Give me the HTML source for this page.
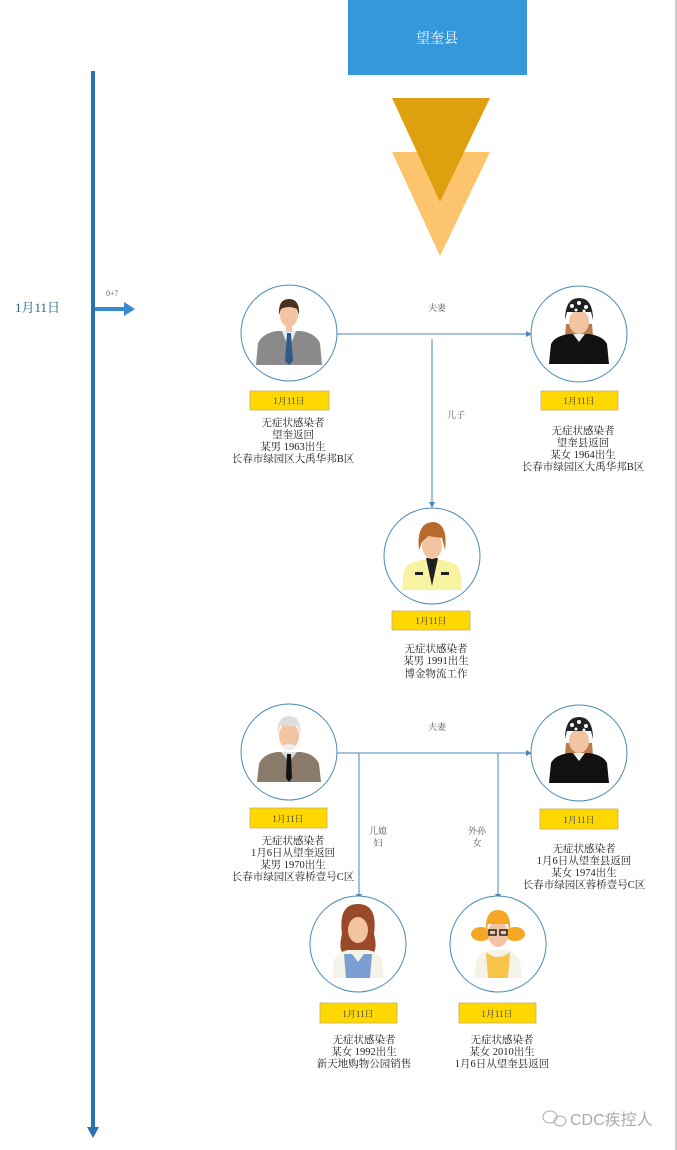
<!DOCTYPE html>
<html><head><meta charset="utf-8"><style>
html,body{margin:0;padding:0;background:#fff;}
svg{display:block;}
text{font-family:"Liberation Serif","Noto Serif CJK SC","Noto Sans CJK SC",serif;}
</style></head><body>
<svg width="677" height="1150" viewBox="0 0 677 1150" xmlns="http://www.w3.org/2000/svg">
<rect width="677" height="1150" fill="#fff"/>
<line x1="676" y1="0" x2="676" y2="1150" stroke="#999" stroke-width="1"/>
<rect x="348" y="0" width="179" height="75" fill="#3498db"/>
<text x="437" y="43" font-size="14" fill="#fff" text-anchor="middle">望奎县</text>
<polygon points="392,152 490,152 440,256" fill="#fdc46e"/>
<polygon points="392,98 490,98 440,202" fill="#dfa010"/>
<rect x="91" y="71" width="4" height="1058" fill="#2a72b0"/>
<polygon points="87,1127 99,1127 93,1138" fill="#2a72b0"/>
<text x="15" y="312" font-size="13" fill="#2a5f90">1月11日</text>
<rect x="95" y="307" width="30" height="4" fill="#3a8ad0"/>
<polygon points="124,302 135,309 124,316" fill="#3a8ad0"/>
<text x="106" y="296" font-size="8" fill="#666">0+7</text>

<g stroke="#4a86b8" stroke-width="1" fill="none">
<line x1="337" y1="334" x2="527" y2="334"/>
<line x1="432" y1="339" x2="432" y2="503"/>
<line x1="337" y1="753" x2="527" y2="753"/>
<line x1="359" y1="753" x2="359" y2="895"/>
<line x1="498" y1="753" x2="498" y2="895"/>
</g>
<g fill="#4a86b8">
<polygon points="526,331 532,334 526,337"/>
<polygon points="429,502 432,508 435,502"/>
<polygon points="526,750 532,753 526,756"/>
<polygon points="356,894 359,900 362,894"/>
<polygon points="495,894 498,900 501,894"/>
</g>
<g font-size="9" fill="#555" text-anchor="middle">
<text x="437" y="311">夫妻</text>
<text x="456" y="418">儿子</text>
<text x="437" y="730">夫妻</text>
<text x="378" y="834">儿媳</text><text x="378" y="846">妇</text>
<text x="477" y="834">外孙</text><text x="477" y="846">女</text>
</g>

<g fill="#fff" stroke="#4a8ab8" stroke-width="1">
<ellipse cx="289" cy="333" rx="48" ry="48"/>
<ellipse cx="579" cy="334" rx="48" ry="48"/>
<ellipse cx="432" cy="556" rx="48" ry="48"/>
<ellipse cx="289" cy="752" rx="48" ry="48"/>
<ellipse cx="579" cy="753" rx="48" ry="48"/>
<ellipse cx="358" cy="944" rx="48" ry="48"/>
<ellipse cx="498" cy="944" rx="48" ry="48"/>
</g>

<g transform="translate(289,333)">
<path d="M-33,32 L-31,10 Q-26,0 -12,-2 L12,-2 Q26,0 31,10 L33,32Z" fill="#8a8a8a"/>
<path d="M-7,-2 L0,16 L7,-2Z" fill="#e8eef5"/>
<path d="M-2,0 L2,0 L4,28 L0,32 L-4,28Z" fill="#2f5a86"/>
<rect x="-3" y="-10" width="6" height="9" fill="#f3c4a2"/>
<ellipse cx="0" cy="-18" rx="9" ry="12" fill="#f3c4a2"/>
<path d="M-10,-18 Q-11,-34 0,-34 Q11,-34 10,-18 L8,-24 Q0,-28 -8,-24Z" fill="#4a3020"/>
</g>
<g transform="translate(579,334)">
<path d="M-13,-10 L-15,14 L15,14 L13,-10Z" fill="#b87d4b"/>
<path d="M-30,30 L-28,10 Q-24,2 -10,0 L10,0 Q24,2 28,10 L30,30Z" fill="#111"/>
<path d="M-6,0 L0,8 L6,0Z" fill="#eee"/>
<ellipse cx="0" cy="-12" rx="10" ry="12" fill="#f3c4a2"/>
<path d="M-14,-14 Q-14,-36 0,-36 Q14,-36 14,-14 L12,-22 L-12,-22Z" fill="#222"/>
<circle cx="-7" cy="-28" r="2" fill="#fff"/><circle cx="0" cy="-31" r="2" fill="#fff"/><circle cx="7" cy="-27" r="2" fill="#fff"/><circle cx="-3" cy="-24" r="1.5" fill="#fff"/><circle cx="5" cy="-23" r="1.5" fill="#fff"/>
</g>
<g transform="translate(432,556)">
<path d="M-30,34 L-28,14 Q-24,6 -10,4 L10,4 Q24,6 28,14 L30,34Z" fill="#f8f3a0"/>
<path d="M-6,2 L0,30 L6,2Z" fill="#222"/>
<rect x="-17" y="16" width="8" height="3" fill="#222"/><rect x="9" y="16" width="8" height="3" fill="#222"/>
<ellipse cx="0" cy="-10" rx="10" ry="13" fill="#f3c4a2"/>
<path d="M-13,-6 Q-16,-34 2,-34 Q16,-32 13,-6 L10,-18 L-4,-20 L-10,-14Z" fill="#b86a2c"/>
</g>
<g transform="translate(289,752)">
<path d="M-32,30 L-30,12 Q-26,2 -12,0 L12,0 Q26,2 30,12 L32,30Z" fill="#8a7a6a"/>
<path d="M-8,0 L0,10 L8,0Z" fill="#ddd"/>
<path d="M-2,2 L2,2 L3,26 L0,30 L-3,26Z" fill="#111"/>
<ellipse cx="0" cy="-16" rx="10" ry="13" fill="#f3c4a2"/>
<path d="M-11,-16 Q-13,-36 0,-36 Q13,-36 11,-16 L9,-26 L-9,-26Z" fill="#ddd"/>
<path d="M-7,-6 Q0,-10 7,-6 L5,-2 L-5,-2Z" fill="#eee"/>
</g>
<g transform="translate(579,753)">
<path d="M-13,-10 L-15,14 L15,14 L13,-10Z" fill="#b87d4b"/>
<path d="M-30,30 L-28,10 Q-24,2 -10,0 L10,0 Q24,2 28,10 L30,30Z" fill="#111"/>
<path d="M-6,0 L0,8 L6,0Z" fill="#eee"/>
<ellipse cx="0" cy="-12" rx="10" ry="12" fill="#f3c4a2"/>
<path d="M-14,-14 Q-14,-36 0,-36 Q14,-36 14,-14 L12,-22 L-12,-22Z" fill="#222"/>
<circle cx="-7" cy="-28" r="2" fill="#fff"/><circle cx="0" cy="-31" r="2" fill="#fff"/><circle cx="7" cy="-27" r="2" fill="#fff"/><circle cx="-3" cy="-24" r="1.5" fill="#fff"/><circle cx="5" cy="-23" r="1.5" fill="#fff"/>
</g>
<g transform="translate(358,944)">
<path d="M-16,-10 Q-20,-40 0,-40 Q20,-40 16,-10 Q20,6 14,10 L-14,10 Q-20,6 -16,-10Z" fill="#9a4a28"/>
<path d="M-26,34 L-24,16 Q-20,8 -10,6 L10,6 Q20,8 24,16 L26,34Z" fill="#f5f3e8"/>
<path d="M-14,10 L-12,34 L12,34 L14,10 L6,10 L0,18 L-6,10Z" fill="#7a9fd0"/>
<ellipse cx="0" cy="-14" rx="10" ry="13" fill="#f3c4a2"/>
</g>
<g transform="translate(498,944)">
<ellipse cx="-17" cy="-10" rx="10" ry="7" fill="#f6a525"/>
<ellipse cx="17" cy="-10" rx="10" ry="7" fill="#f6a525"/>
<path d="M-24,34 L-22,16 Q-18,8 -8,6 L8,6 Q18,8 22,16 L24,34Z" fill="#f5f3e8"/>
<path d="M-12,8 L-10,34 L10,34 L12,8 Q0,18 -12,8Z" fill="#f8c54a"/>
<ellipse cx="0" cy="-10" rx="10" ry="13" fill="#f3c4a2"/>
<path d="M-12,-10 Q-14,-34 0,-34 Q14,-34 12,-10 L10,-20 L-10,-20Z" fill="#f6a525"/>
<rect x="-9" y="-14" width="7" height="5" fill="none" stroke="#222" stroke-width="1.5"/>
<rect x="2" y="-14" width="7" height="5" fill="none" stroke="#222" stroke-width="1.5"/>
</g>

<g fill="#ffd800" stroke="#c8b060" stroke-width="0.8">
<rect x="250" y="391" width="79" height="19"/>
<rect x="541" y="391" width="77" height="19"/>
<rect x="392" y="611" width="78" height="19"/>
<rect x="250" y="808" width="77" height="20"/>
<rect x="540" y="809" width="78" height="20"/>
<rect x="320" y="1003" width="77" height="20"/>
<rect x="459" y="1003" width="77" height="20"/>
</g>
<g font-size="9" fill="#444" text-anchor="middle">
<text x="289" y="404">1月11日</text>
<text x="579" y="404">1月11日</text>
<text x="431" y="624">1月11日</text>
<text x="288" y="822">1月11日</text>
<text x="579" y="823">1月11日</text>
<text x="358" y="1017">1月11日</text>
<text x="497" y="1017">1月11日</text>
</g>

<g font-size="10.5" fill="#222" text-anchor="middle">
<text x="293" y="426">无症状感染者</text>
<text x="293" y="438">望奎返回</text>
<text x="293" y="450">某男  1963出生</text>
<text x="293" y="462">长春市绿园区大禹华邦B区</text>

<text x="583" y="434">无症状感染者</text>
<text x="583" y="446">望奎县返回</text>
<text x="583" y="458">某女  1964出生</text>
<text x="583" y="470">长春市绿园区大禹华邦B区</text>

<text x="436" y="652">无症状感染者</text>
<text x="436" y="664">某男  1991出生</text>
<text x="436" y="677">博金物流工作</text>

<text x="293" y="844">无症状感染者</text>
<text x="293" y="856">1月6日从望奎返回</text>
<text x="293" y="868">某男  1970出生</text>
<text x="293" y="880">长春市绿园区蓉桥壹号C区</text>

<text x="584" y="852">无症状感染者</text>
<text x="584" y="864">1月6日从望奎县返回</text>
<text x="584" y="876">某女  1974出生</text>
<text x="584" y="888">长春市绿园区蓉桥壹号C区</text>

<text x="364" y="1043">无症状感染者</text>
<text x="364" y="1055">某女  1992出生</text>
<text x="364" y="1067">新天地购物公园销售</text>

<text x="502" y="1043">无症状感染者</text>
<text x="502" y="1055">某女  2010出生</text>
<text x="502" y="1067">1月6日从望奎县返回</text>
</g>

<g fill="none" stroke="#aaa" stroke-width="1">
<ellipse cx="550" cy="1117" rx="7" ry="6"/>
<ellipse cx="560" cy="1121" rx="6" ry="5"/>
</g>
<text x="570" y="1125" font-size="16" fill="#aaa" style="font-family:'Liberation Sans','Noto Sans CJK SC',sans-serif">CDC疾控人</text>
</svg>
</body></html>
